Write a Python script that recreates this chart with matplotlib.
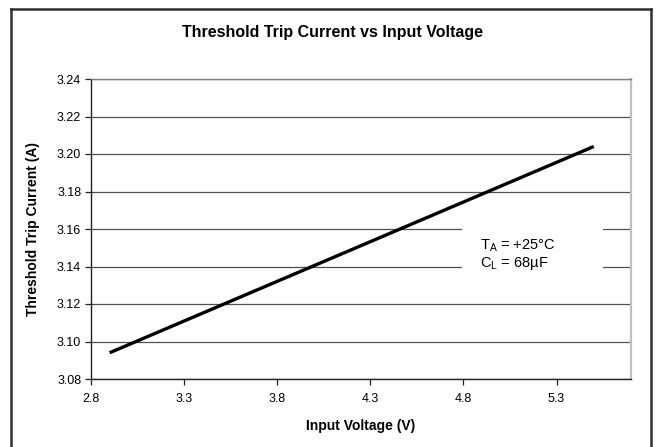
import matplotlib
matplotlib.use("Agg")
import matplotlib.pyplot as plt
from matplotlib.patches import Rectangle
from matplotlib.lines import Line2D

plt.rcParams['font.family'] = ['Liberation Sans', 'DejaVu Sans']
plt.rcParams['mathtext.fontset'] = 'custom'
plt.rcParams['mathtext.rm'] = 'Liberation Sans'
plt.rcParams['mathtext.default'] = 'regular'

# Data
input_voltage = [2.9, 5.5]
trip_current = [3.094, 3.204]
x_ticks = [2.8, 3.3, 3.8, 4.3, 4.8, 5.3]
y_ticks = [3.08, 3.10, 3.12, 3.14, 3.16, 3.18, 3.20, 3.22, 3.24]
title = "Threshold Trip Current vs Input Voltage"
xlabel = "Input Voltage (V)"
ylabel = "Threshold Trip Current (A)"
annot = "T$_{A}$ = +25°C\nC$_{L}$ = 68µF"

W, H = 660, 447
fig = plt.figure(figsize=(W / 100, H / 100), dpi=100)
fig.patch.set_facecolor('white')

ax = fig.add_axes([91 / W, 1 - 379 / H, 540 / W, 300 / H])
ax.set_xlim(2.8, 5.7)
ax.set_ylim(3.08, 3.24)
ax.set_xticks(x_ticks)
ax.set_xticklabels([f"{v:.1f}" for v in x_ticks])
ax.set_yticks(y_ticks)
ax.set_yticklabels([f"{v:.2f}" for v in y_ticks])
ax.tick_params(axis='both', labelsize=9, direction='out', length=4, width=0.9,
               colors='#202020', labelcolor='black', pad=3)
ax.tick_params(axis='x', pad=6)

ax.grid(axis='y', color='#505050', linewidth=0.9, zorder=1)
ax.set_axisbelow(True)

for s in ['left', 'bottom']:
    ax.spines[s].set_color('#202020')
    ax.spines[s].set_linewidth(1.0)
ax.spines['top'].set_color('#808080')
ax.spines['top'].set_linewidth(1.0)
ax.spines['right'].set_color('#c0c0c0')
ax.spines['right'].set_linewidth(1.6)

ax.plot(input_voltage, trip_current, color='black', linewidth=2.4,
        solid_capstyle='butt', zorder=4)

# annotation box (white background hiding gridlines)
ax.add_patch(Rectangle((0.687, 0.31), 0.261, 0.24, transform=ax.transAxes,
                       facecolor='white', edgecolor='none', zorder=2))
ax.text((480 - 91) / 540, (379 - 255) / 300, annot, transform=ax.transAxes,
        fontsize=10.5, va='center', ha='left', linespacing=1.1, zorder=5)

ax.set_xlabel(xlabel, fontsize=10, fontweight='bold', labelpad=10)
ax.set_ylabel(ylabel, fontsize=10, fontweight='bold', labelpad=12)

fig.text(332 / W, 1 - 33 / H, title, fontsize=11.5, fontweight='bold',
         ha='center', va='center')

# outer border (bottom edge runs off the image)
bc = '#303030'
fig.add_artist(Line2D([11 / W, 11 / W], [0, 1 - 9 / H], transform=fig.transFigure,
                      color=bc, linewidth=1.8))
fig.add_artist(Line2D([11 / W, 651 / W], [1 - 9 / H, 1 - 9 / H], transform=fig.transFigure,
                      color=bc, linewidth=1.8))
fig.add_artist(Line2D([651 / W, 651 / W], [0, 1 - 9 / H], transform=fig.transFigure,
                      color=bc, linewidth=1.8))

fig.savefig("out.png", dpi=100)
